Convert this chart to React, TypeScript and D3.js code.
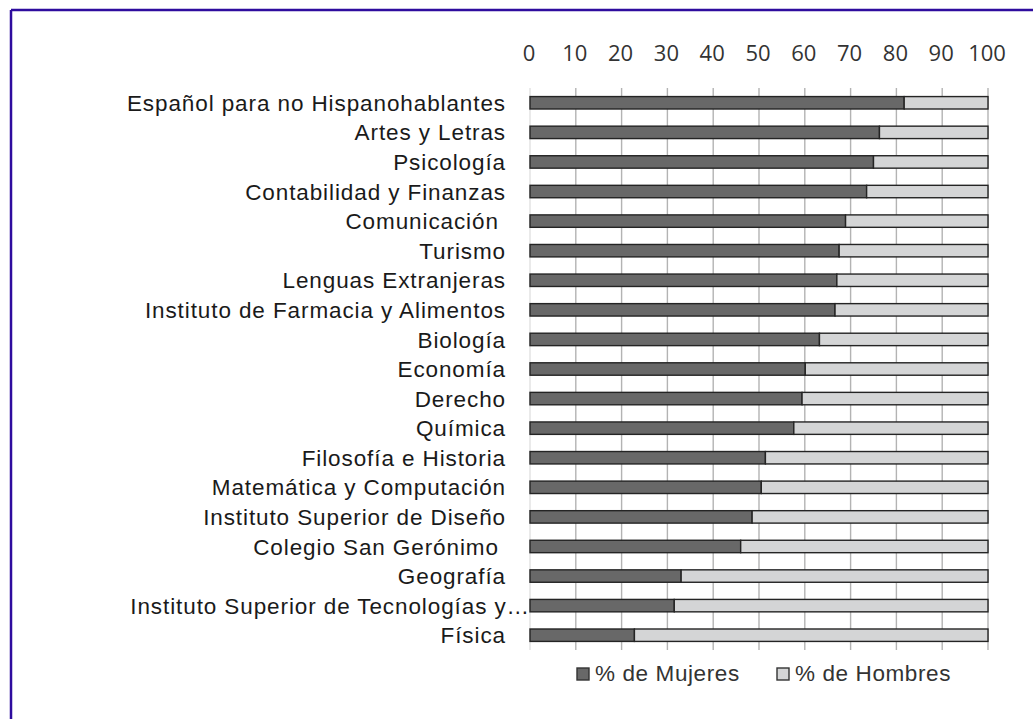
import React from "react";
import * as d3 from "d3";

const categories = [
  "Español para no Hispanohablantes",
  "Artes y Letras",
  "Psicología",
  "Contabilidad y Finanzas",
  "Comunicación ",
  "Turismo",
  "Lenguas Extranjeras",
  "Instituto de Farmacia y Alimentos",
  "Biología",
  "Economía",
  "Derecho",
  "Química",
  "Filosofía e Historia",
  "Matemática y Computación",
  "Instituto Superior de Diseño",
  "Colegio San Gerónimo ",
  "Geografía",
  "Instituto Superior de Tecnologías y…",
  "Física",
];

const mujeres = [81.7, 76.3, 75.0, 73.5, 68.9, 67.5, 67.0, 66.6, 63.2, 60.1, 59.4, 57.6, 51.4, 50.5, 48.5, 46.0, 33.0, 31.5, 22.8];
const hombres = mujeres.map((m) => 100 - m);

const xTicks = [0, 10, 20, 30, 40, 50, 60, 70, 80, 90, 100];
const seriesNames = ["% de Mujeres", "% de Hombres"];
const seriesColors = ["#686868", "#d4d5d6"];

export default function App() {
  const W = 1033, H = 719;
  const x = d3.scaleLinear().domain([0, 100]).range([530, 988]);
  const y = d3.scaleBand<string>().domain(categories).range([88, 650]).paddingInner(0.58).paddingOuter(0.29);
  const bh = y.bandwidth();
  const font = "'Liberation Sans', Arial, sans-serif";
  const tickFont = "'Open Sans', 'Noto Sans', sans-serif";

  return (
    <svg width={W} height={H} style={{ position: "absolute", left: 0, top: 0, background: "#fff" }}>
      <rect x={0} y={0} width={W} height={H} fill="#fff" />
      {/* frame */}
      <line x1={11} y1={10} x2={W} y2={10} stroke="#2e0c9e" strokeWidth={2.5} />
      <line x1={11} y1={10} x2={11} y2={H} stroke="#2e0c9e" strokeWidth={2.5} />

      {/* gridlines */}
      {xTicks.map((t) => (
        <line
          key={"g" + t}
          x1={x(t)}
          x2={x(t)}
          y1={88}
          y2={650}
          stroke={t === 0 ? "#dcdcdc" : "#b3b3b3"}
          strokeWidth={t === 0 ? 1.2 : 1.4}
        />
      ))}

      {/* tick labels */}
      {xTicks.map((t) => (
        <text key={"t" + t} x={x(t) - 1} y={61} textAnchor="middle" fontFamily={tickFont} fontSize={22} fill="#333">
          {t}
        </text>
      ))}

      {/* bars */}
      {categories.map((c, i) => {
        const yy = y(c)!;
        return (
          <g key={c}>
            <rect x={x(0)} y={yy} width={x(mujeres[i]) - x(0)} height={bh} fill={seriesColors[0]} stroke="#242424" strokeWidth={1.4} />
            <rect x={x(mujeres[i])} y={yy} width={x(mujeres[i] + hombres[i]) - x(mujeres[i])} height={bh} fill={seriesColors[1]} stroke="#242424" strokeWidth={1.4} />
          </g>
        );
      })}

      {/* category labels */}
      {categories.map((c) => (
        <text
          key={"l" + c}
          x={c.endsWith("…") ? 530 : 506}
          y={y(c)! + bh / 2}
          dy="0.36em"
          textAnchor="end"
          fontFamily={font}
          fontSize={22.5}
          letterSpacing={0.9}
          fill="#1a1a1a"
          style={{ whiteSpace: "pre" }}
        >
          {c}
        </text>
      ))}

      {/* legend */}
      {seriesNames.map((s, i) => {
        const lx = i === 0 ? 577 : 777;
        return (
          <g key={s}>
            <rect x={lx} y={668} width={12} height={12} fill={seriesColors[i]} stroke="#333" strokeWidth={1.4} />
            <text x={lx + 18} y={681} fontFamily={font} fontSize={22.5} letterSpacing={0.6} fill="#333">
              {s}
            </text>
          </g>
        );
      })}
    </svg>
  );
}
